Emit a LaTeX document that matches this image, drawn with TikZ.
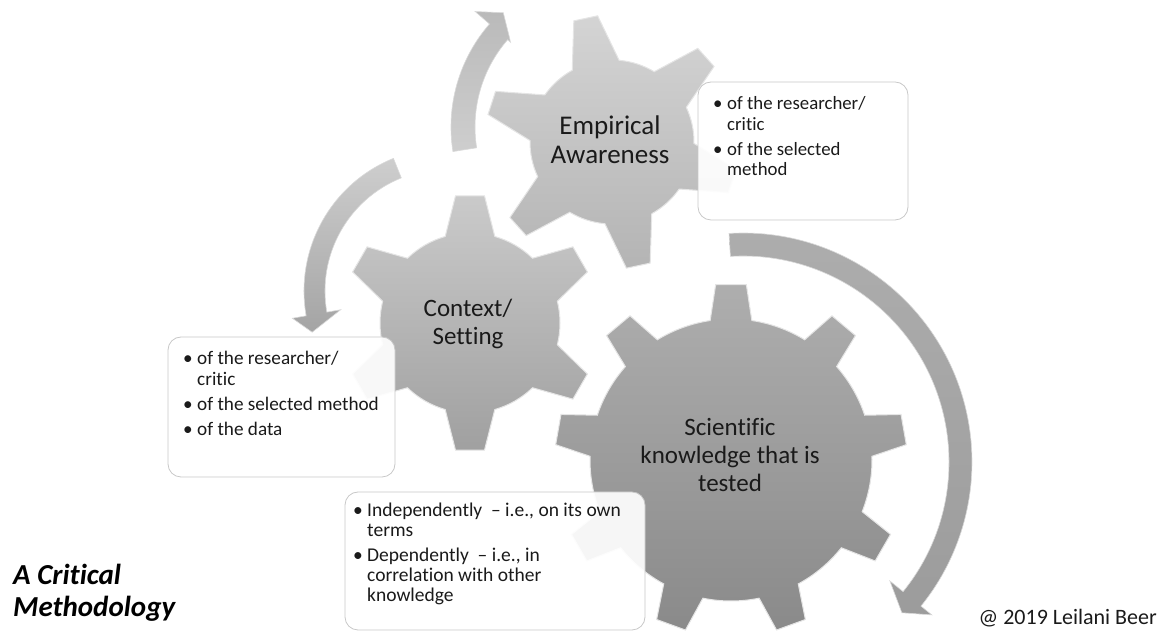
\documentclass[tikz,border=0pt]{standalone}
\usepackage{fontspec}
\setmainfont{Carlito}[Ligatures={NoCommon}]
\usetikzlibrary{calc}

% gear and arrow tones
\definecolor{empTop}{RGB}{212,212,212}
\definecolor{empBot}{RGB}{180,180,180}
\definecolor{ctxTop}{RGB}{202,202,202}
\definecolor{ctxBot}{RGB}{160,160,160}
\definecolor{sciTop}{RGB}{174,174,174}
\definecolor{sciBot}{RGB}{138,138,138}
\definecolor{arrLight}{RGB}{206,206,206}
\definecolor{arrMid}{RGB}{186,186,186}
\definecolor{arrDark}{RGB}{164,164,164}
\definecolor{boxLine}{RGB}{200,200,200}
\definecolor{inkText}{RGB}{26,26,26}

% #1 style, #2 centre, #3 teeth, #4 first tooth angle,
% #5 body radius, #6 tip radius, #7 base half-angle, #8 tip half-angle
\newcommand\gearshape[8]{%
  \pgfmathsetmacro\gearstep{360/#3}%
  \pgfmathtruncatemacro\gearlast{#3-1}%
  \path[#1] ($(#2)+({#4-#7}:#5)$)
    \foreach \k in {0,...,\gearlast}{
      -- ($(#2)+({#4+\k*\gearstep-#8}:#6)$)
      -- ($(#2)+({#4+\k*\gearstep+#8}:#6)$)
      -- ($(#2)+({#4+\k*\gearstep+#7}:#5)$)
      arc[start angle={#4+\k*\gearstep+#7}, end angle={#4+(\k+1)*\gearstep-#7}, radius=#5pt]
    } -- cycle;
}

\newcommand\bul[1]{\makebox[14pt][l]{\textbullet}#1}
\newcommand\cnt[1]{\hspace*{14pt}#1}

\tikzset{
  gearedge/.style={draw=white!90!black, line width=1pt},
  arrowband/.style={draw=white!85!black, line width=0.6pt},
  notebox/.style={draw=boxLine, line width=0.8pt, fill=white, fill opacity=0.92, rounded corners=13pt},
  notetext/.style={inner sep=0pt, anchor=base west, text=inkText},
  gearlabel/.style={inner sep=0pt, align=center, text=inkText,
    font=\fontsize{25}{28}\selectfont},
}

\begin{document}
\begin{tikzpicture}[x=1pt, y=1pt]
\useasboundingbox (0,0) rectangle (1165,631);

% centres
\coordinate (gE) at (612,489);
\coordinate (gC) at (470,308);
\coordinate (gS) at (731,171);
\coordinate (arc1) at (608,504);
\coordinate (arc2) at (447,340);
\coordinate (arc3) at (743,169);

% circular arrows
\path[arrowband, top color=arrMid, bottom color=arrLight]
  ($(arc1)+(189:157)$) arc[start angle=189, end angle=139, radius=157pt]
  -- ($(arc1)+(139:176)$) -- ($(arc1)+(132.5:155)$) -- ($(arc1)+(139:129)$)
  -- ($(arc1)+(139:133)$) arc[start angle=139, end angle=189, radius=133pt] -- cycle;

\path[arrowband, top color=arrLight, bottom color=arrDark]
  ($(arc2)+(112:143)$) arc[start angle=112, end angle=190, radius=143pt]
  -- ($(arc2)+(190:157)$) -- ($(arc2)+(197:141)$) -- ($(arc2)+(190:108)$)
  -- ($(arc2)+(190:122)$) arc[start angle=190, end angle=112, radius=122pt] -- cycle;

\path[arrowband, top color=arrDark!90!white, bottom color=arrDark!95!black]
  ($(arc3)+(93.5:229)$) arc[start angle=93.5, end angle=-39, radius=229pt]
  -- ($(arc3)+(-39:243)$) -- ($(arc3)+(-43.5:219)$) -- ($(arc3)+(-39:189)$)
  -- ($(arc3)+(-39:206)$) arc[start angle=-39, end angle=93.5, radius=206pt] -- cycle;

% gears
\gearshape{gearedge, top color=empTop, bottom color=empBot}{gE}{6}{102}{82}{127}{17}{5.5}
\gearshape{gearedge, top color=ctxTop, bottom color=ctxBot}{gC}{6}{90}{90}{128}{16}{6.5}
\gearshape{gearedge, top color=sciTop, bottom color=sciBot}{gS}{9}{90}{141}{176}{8.5}{5}

% gear labels
\node[gearlabel, font=\fontsize{27}{29}\selectfont] (labE) at (610,491) {Empirical\\Awareness};
\node[gearlabel] (labC) at (468,307) {Context/\\Setting};
\node[gearlabel] (labS) at (730,176) {Scientific\\knowledge that is\\tested};

% note boxes
\path[notebox] (698,411) rectangle (908,549);
\path[notebox] (168,154) rectangle (395,294);
\path[notebox] (345,1) rectangle (645,139);

\node[notetext, font=\fontsize{18.8}{20.5}\selectfont] (noteE) at (713,521) {\begin{tabular}[t]{@{}l@{}}
  \bul{of the researcher/}\\ \cnt{critic}\\[4.5pt]
  \bul{of the selected}\\ \cnt{method}\end{tabular}};
\node[notetext, font=\fontsize{19.2}{20.5}\selectfont] (noteC) at (183,266) {\begin{tabular}[t]{@{}l@{}}
  \bul{of the researcher/}\\ \cnt{critic}\\[4.5pt]
  \bul{of the selected method}\\[4.5pt]
  \bul{of the data}\end{tabular}};
\node[notetext, font=\fontsize{19.5}{20}\selectfont] (noteS) at (353,114) {\begin{tabular}[t]{@{}l@{}}
  \bul{Independently\ \ -- i.e., on its own}\\ \cnt{terms}\\[4.5pt]
  \bul{Dependently\ \ -- i.e., in}\\ \cnt{correlation with other}\\ \cnt{knowledge}\end{tabular}};

% title and credit
\node[inner sep=0pt, anchor=base west, text=black,
  font=\bfseries\itshape\fontsize{29}{32}\selectfont] (title) at (13,46)
  {\begin{tabular}[t]{@{}l@{}}A Critical\\Methodology\end{tabular}};
\node[inner sep=0pt, anchor=base east, text=inkText,
  font=\fontsize{22}{24}\selectfont] (credit) at (1157,6) {@ 2019 Leilani Beer};
\end{tikzpicture}
\end{document}
